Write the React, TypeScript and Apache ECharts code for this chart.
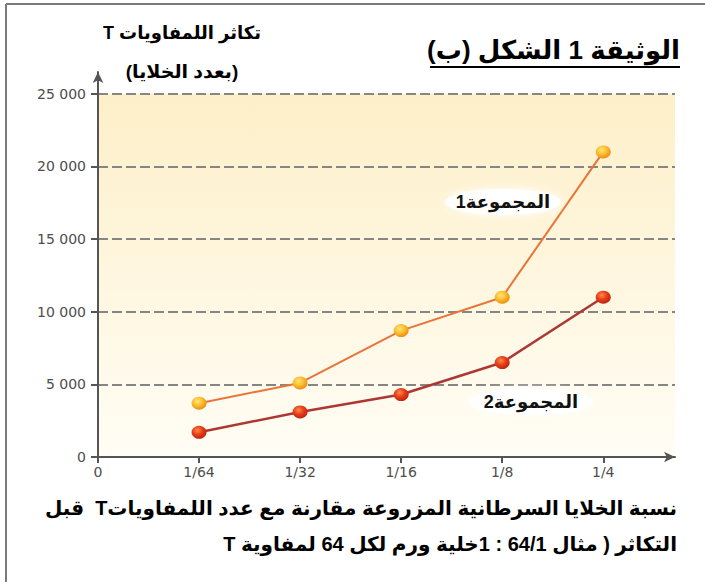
import React, { useEffect, useRef } from "react";
import * as echarts from "echarts";

const xTickLabels = ["0", "1/64", "1/32", "1/16", "1/8", "1/4"];
const xTickValues = [0, 1, 2, 3, 4, 5];
const xPositions = [1, 2, 3, 4, 5];
const group1 = [3700, 5100, 8700, 11000, 21000];
const group2 = [1700, 3100, 4300, 6500, 11000];
const yTicks = [0, 5000, 10000, 15000, 20000, 25000];
const group1Name = "المجموعة1";
const group2Name = "المجموعة2";
const titleText = "الوثيقة 1 الشكل (ب)";
const yTitleLines = ["تكاثر اللمفاويات T", "(بعدد الخلايا)"];
const xTitleLines = [
  "نسبة الخلايا السرطانية المزروعة مقارنة مع عدد اللمفاوياتT  قبل",
  "التكاثر ( مثال 64/1 : 1خلية ورم لكل 64 لمفاوية T",
];

const rtl = (s: string) => "\u202B" + s + "\u202C";
const AR_FONT = "'Liberation Sans', 'DejaVu Sans', sans-serif";
const TICK_FONT = "'DejaVu Sans', 'Liberation Sans', sans-serif";

const fmt = (v: number) =>
  v === 0 ? "0" : String(v).replace(/\B(?=(\d{3})+(?!\d))/g, " ");

export default function App() {
  const ref = useRef<HTMLDivElement>(null);
  useEffect(() => {
    if (!ref.current) return;
    const chart = echarts.init(ref.current, null, { renderer: "svg" });
    const axisColor = "#555";
    const s1 = xPositions.map((x, i) => [x, group1[i]]);
    const s2 = xPositions.map((x, i) => [x, group2[i]]);
    const xMax = 5.71;
    chart.setOption({
      animation: false,
      backgroundColor: "#ffffff",
      grid: { left: 98, right: 30, top: 72, bottom: 125 },
      xAxis: {
        type: "value",
        min: 0,
        max: xMax,
        z: 3,
        axisLine: {
          show: true,
          lineStyle: { color: axisColor, width: 2 },
          symbol: ["none", "arrow"],
          symbolSize: [8, 11],
        },
        axisTick: {
          show: true,
          length: 6,
          customValues: xTickValues,
          lineStyle: { color: axisColor, width: 2 },
        },
        axisLabel: {
          customValues: xTickValues,
          formatter: (v: number) => xTickLabels[Math.round(v)] ?? "",
          margin: 8,
          color: "#4d4d4d",
          fontSize: 14,
          fontFamily: TICK_FONT,
        },
        splitLine: { show: false },
      },
      yAxis: {
        type: "value",
        min: 0,
        max: 26500,
        z: 3,
        axisLine: {
          show: true,
          lineStyle: { color: axisColor, width: 2 },
          symbol: ["none", "arrow"],
          symbolSize: [8, 11],
        },
        axisTick: {
          show: true,
          length: 7,
          customValues: yTicks,
          lineStyle: { color: axisColor, width: 2 },
        },
        axisLabel: {
          customValues: yTicks,
          formatter: (v: number) => fmt(v),
          margin: 12,
          color: "#4d4d4d",
          fontSize: 14,
          fontFamily: TICK_FONT,
        },
        splitLine: {
          show: true,
          lineStyle: { color: "#858585", width: 2, type: [10, 4] },
        },
      },
      series: [
        {
          type: "line",
          name: group1Name,
          data: s1,
          z: 5,
          symbol: "circle",
          symbolSize: [15, 13],
          lineStyle: { color: "#ea7438", width: 2 },
          itemStyle: {
            color: new echarts.graphic.RadialGradient(0.4, 0.35, 0.7, [
              { offset: 0, color: "#ffe680" },
              { offset: 0.5, color: "#fbbd2a" },
              { offset: 1, color: "#e8870f" },
            ]),
          },
          markArea: {
            silent: true,
            z: 1,
            itemStyle: {
              color: new echarts.graphic.LinearGradient(0, 0, 0, 1, [
                { offset: 0, color: "#fdefc8" },
                { offset: 1, color: "#fffdf5" },
              ]),
            },
            data: [[{ xAxis: 0, yAxis: 0 }, { xAxis: xMax, yAxis: 25000 }]],
          },
        },
        {
          type: "line",
          name: group2Name,
          data: s2,
          z: 5,
          symbol: "circle",
          symbolSize: [15, 13],
          lineStyle: { color: "#ad3733", width: 2.5 },
          itemStyle: {
            color: new echarts.graphic.RadialGradient(0.4, 0.35, 0.7, [
              { offset: 0, color: "#ff8a4a" },
              { offset: 0.5, color: "#e63d17" },
              { offset: 1, color: "#b8200c" },
            ]),
          },
        },
      ],
      graphic: [
        { type: "line", shape: { x1: 6, y1: 4, x2: 705, y2: 4 }, style: { stroke: "#7a7a7a", lineWidth: 2 }, z: 10 },
        { type: "line", shape: { x1: 6, y1: 4, x2: 6, y2: 582 }, style: { stroke: "#7a7a7a", lineWidth: 2 }, z: 10 },
        {
          type: "text", x: 680, y: 50, z: 10,
          style: { text: rtl(titleText), font: `bold 26px ${AR_FONT}`, fill: "#000", textAlign: "right", textVerticalAlign: "middle" },
        },
        { type: "line", shape: { x1: 430, y1: 67, x2: 680, y2: 67 }, style: { stroke: "#000", lineWidth: 2 }, z: 10 },
        {
          type: "text", x: 182, y: 33, z: 10,
          style: { text: rtl(yTitleLines[0]), font: `bold 18px ${AR_FONT}`, fill: "#000", textAlign: "center", textVerticalAlign: "middle" },
        },
        {
          type: "text", x: 182, y: 71, z: 10,
          style: { text: rtl(yTitleLines[1]), font: `bold 19px ${AR_FONT}`, fill: "#000", textAlign: "center", textVerticalAlign: "middle" },
        },
        {
          type: "ellipse", shape: { cx: 503, cy: 202, rx: 58, ry: 13 }, z: 8,
          style: { fill: "rgba(255,255,255,0.95)", shadowBlur: 10, shadowColor: "#ffffff" },
        },
        {
          type: "text", x: 503, y: 202, z: 9,
          style: { text: rtl(group1Name), font: `bold 18px ${AR_FONT}`, fill: "#111", textAlign: "center", textVerticalAlign: "middle" },
        },
        {
          type: "ellipse", shape: { cx: 531, cy: 402, rx: 62, ry: 13 }, z: 8,
          style: { fill: "rgba(255,255,255,0.95)", shadowBlur: 10, shadowColor: "#ffffff" },
        },
        {
          type: "text", x: 531, y: 402, z: 9,
          style: { text: rtl(group2Name), font: `bold 18px ${AR_FONT}`, fill: "#111", textAlign: "center", textVerticalAlign: "middle" },
        },
        {
          type: "text", x: 677, y: 508, z: 10,
          style: { text: rtl(xTitleLines[0]), font: `bold 20px ${AR_FONT}`, fill: "#000", textAlign: "right", textVerticalAlign: "middle" },
        },
        {
          type: "text", x: 677, y: 544, z: 10,
          style: { text: rtl(xTitleLines[1]), font: `bold 20px ${AR_FONT}`, fill: "#000", textAlign: "right", textVerticalAlign: "middle" },
        },
      ],
    });
    return () => chart.dispose();
  }, []);
  return (
    <div
      ref={ref}
      style={{ position: "absolute", left: 0, top: 0, width: 705, height: 582 }}
    />
  );
}
